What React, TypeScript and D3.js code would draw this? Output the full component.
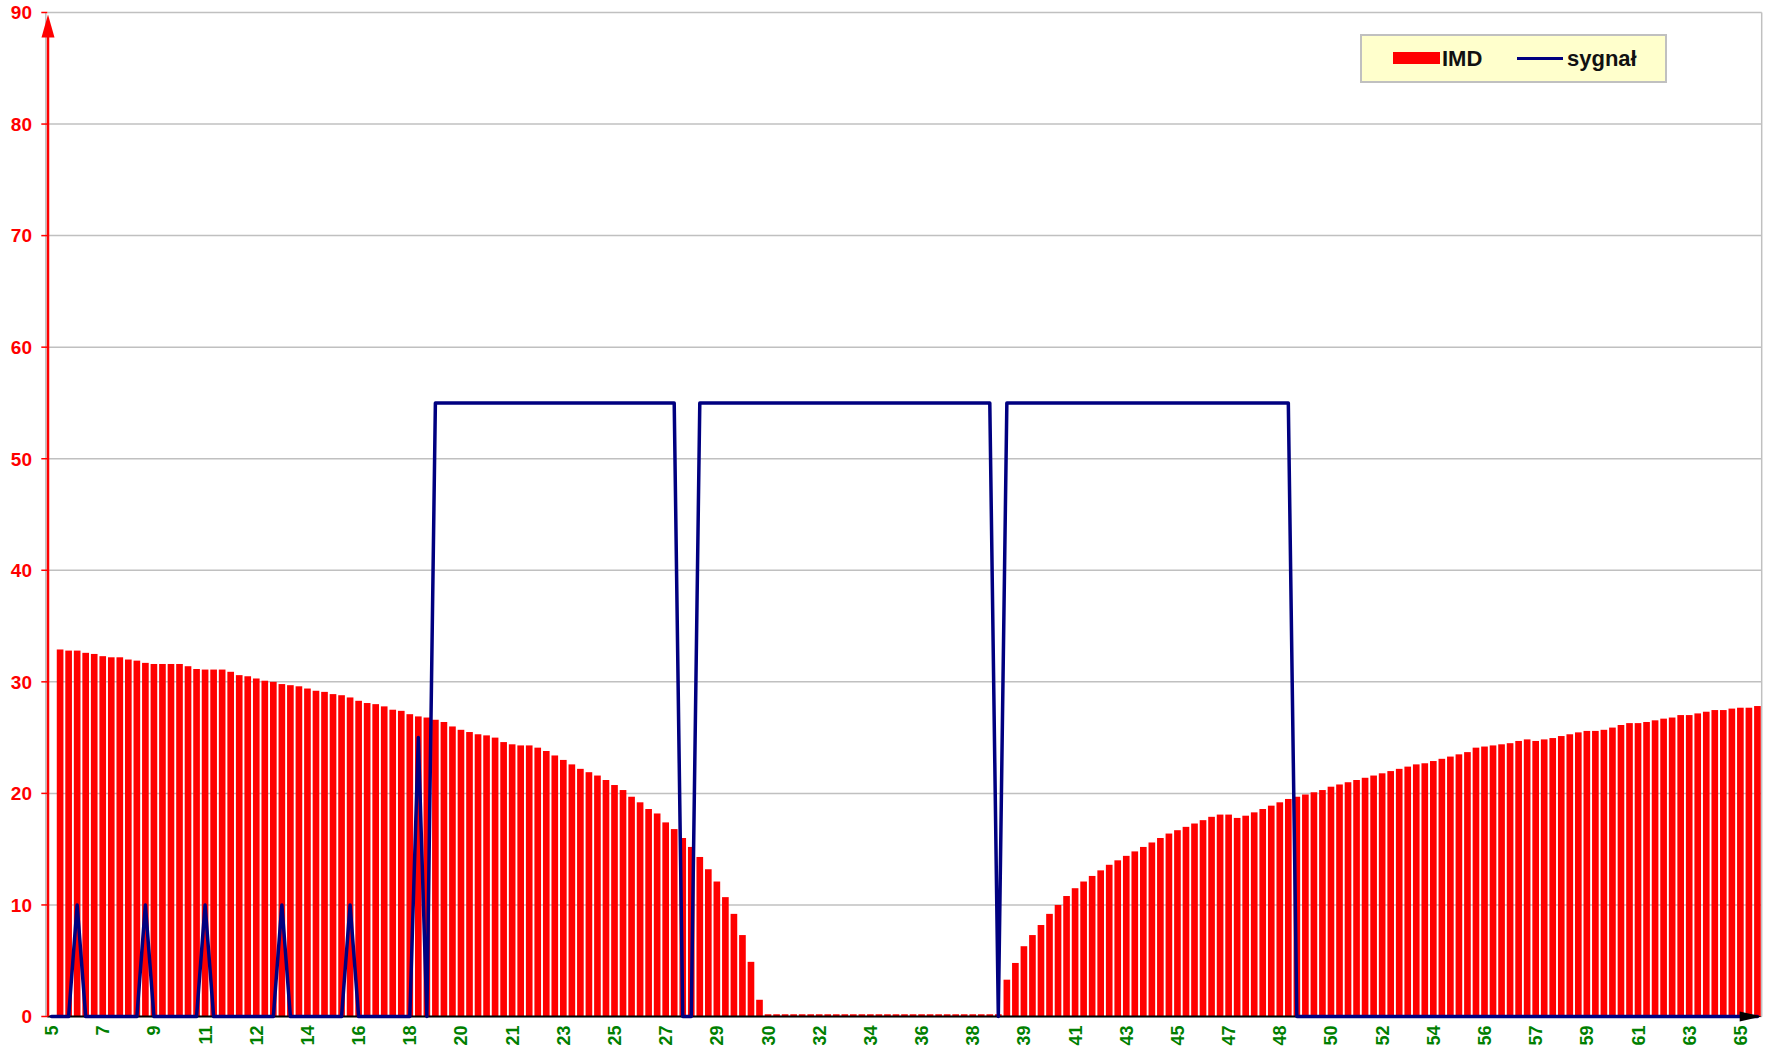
import React from 'react';
import * as d3 from 'd3';

const W = 1768;
const H = 1052;

// IMD bar values (one per category; the first category has no bar)
const imd: number[] = [
  0, 32.9, 32.8, 32.8, 32.6, 32.5, 32.3, 32.2, 32.2, 32.0,
  31.9, 31.7, 31.6, 31.6, 31.6, 31.6, 31.4, 31.15, 31.1, 31.1,
  31.1, 30.9, 30.6, 30.5, 30.3, 30.1, 30.0, 29.8, 29.7, 29.6,
  29.4, 29.2, 29.1, 28.9, 28.8, 28.6, 28.3, 28.1, 28.0, 27.8,
  27.5, 27.4, 27.1, 26.9, 26.8,
  26.6, 26.4, 26.0, 25.7, 25.5, 25.3, 25.2, 25.0, 24.6, 24.4,
  24.3, 24.3, 24.1, 23.8, 23.4, 23.0, 22.6, 22.2, 21.9, 21.6,
  21.2, 20.75, 20.3, 19.7, 19.2, 18.6, 18.2, 17.4, 16.8, 16.0,
  15.2, 14.3, 13.2, 12.1, 10.7, 9.2, 7.3, 4.9, 1.5,
  0.2, 0.2, 0.2, 0.2, 0.2, 0.2, 0.2, 0.2, 0.2, 0.2,
  0.2, 0.2, 0.2, 0.2, 0.2, 0.2, 0.2, 0.2, 0.2, 0.2,
  0.2, 0.2, 0.2, 0.2, 0.2, 0.2, 0.2,
  0.2,
  3.3, 4.8, 6.3, 7.3, 8.2, 9.2,
  10.0, 10.8, 11.5, 12.1, 12.6, 13.1, 13.6, 14.0, 14.4, 14.8,
  15.2, 15.6, 16.0, 16.4, 16.7, 17.0, 17.3, 17.6, 17.9, 18.1,
  18.1, 17.8, 18.0, 18.3, 18.6, 18.9,
  19.2, 19.5, 19.7, 19.9, 20.1, 20.3, 20.6, 20.8, 21.0, 21.2,
  21.4, 21.6, 21.8, 22.0, 22.2, 22.4, 22.6, 22.7, 22.9, 23.1,
  23.3, 23.5, 23.7, 24.1, 24.2, 24.3,
  24.4, 24.5, 24.7, 24.84, 24.7, 24.84, 24.96, 25.14, 25.3, 25.47,
  25.6, 25.6, 25.7, 25.9, 26.13, 26.3, 26.3, 26.4, 26.55, 26.7,
  26.8, 27.02, 27.02, 27.17, 27.32, 27.47, 27.47, 27.6, 27.68, 27.68,
  27.83,
];

// signal line values (one per category)
const signal: number[] = [
  0, 0, 0, 10, 0, 0, 0, 0, 0, 0,
  0, 10, 0, 0, 0, 0, 0, 0, 10, 0,
  0, 0, 0, 0, 0, 0, 0, 10, 0, 0,
  0, 0, 0, 0, 0, 10, 0, 0, 0, 0,
  0, 0, 0, 25, 0, 55, 55, 55, 55, 55,
  55, 55, 55, 55, 55, 55, 55, 55, 55, 55,
  55, 55, 55, 55, 55, 55, 55, 55, 55, 55,
  55, 55, 55, 55, 0, 0, 55, 55, 55, 55,
  55, 55, 55, 55, 55, 55, 55, 55, 55, 55,
  55, 55, 55, 55, 55, 55, 55, 55, 55, 55,
  55, 55, 55, 55, 55, 55, 55, 55, 55, 55,
  55, 0, 55, 55, 55, 55, 55, 55, 55, 55,
  55, 55, 55, 55, 55, 55, 55, 55, 55, 55,
  55, 55, 55, 55, 55, 55, 55, 55, 55, 55,
  55, 55, 55, 55, 55, 55, 0, 0, 0, 0,
  0, 0, 0, 0, 0, 0, 0, 0, 0, 0,
  0, 0, 0, 0, 0, 0, 0, 0, 0, 0,
  0, 0, 0, 0, 0, 0, 0, 0, 0, 0,
  0, 0, 0, 0, 0, 0, 0, 0, 0, 0,
  0, 0, 0, 0, 0, 0, 0, 0, 0, 0,
  0,
];

// category axis labels (shown every 6th category)
const xTickLabels: string[] = [
  '5', '7', '9', '11', '12', '14', '16', '18', '20', '21',
  '23', '25', '27', '29', '30', '32', '34', '36', '38', '39',
  '41', '43', '45', '47', '48', '50', '52', '54', '56', '57',
  '59', '61', '63', '65',
];
const labelEvery = 6;

const yTicks: number[] = [0, 10, 20, 30, 40, 50, 60, 70, 80, 90];

const FONT = 'Arial, "Liberation Sans", sans-serif';

export default function App() {
  const left = 47.3;
  const right = 1761.7;
  const top = 12.5;
  const bottom = 1016.5;

  const x = d3
    .scaleBand<number>()
    .domain(d3.range(imd.length))
    .range([left, right])
    .paddingInner(0.22)
    .paddingOuter(0.11);
  const y = d3.scaleLinear().domain([0, 90]).range([bottom, top]);
  const cx = (i: number) => (x(i) as number) + x.bandwidth() / 2;

  const linePath = d3
    .line<number>()
    .x((_, i) => cx(i))
    .y((d) => y(d))(signal) as string;

  return (
    <svg
      width={W}
      height={H}
      viewBox={`0 0 ${W} ${H}`}
      style={{ position: 'absolute', left: 0, top: 0, background: '#fff' }}
    >
      {/* gridlines */}
      {yTicks.map((t) => (
        <line key={'g' + t} x1={left} x2={right} y1={y(t)} y2={y(t)} stroke="#C0C0C0" strokeWidth={1.5} />
      ))}
      {/* plot border */}
      <line x1={right} x2={right} y1={top} y2={bottom} stroke="#C0C0C0" strokeWidth={1.5} />
      <line x1={left - 1.5} x2={left - 1.5} y1={top} y2={bottom} stroke="#C0C0C0" strokeWidth={1.5} />

      {/* bars */}
      {imd.map((v, i) =>
        v > 0 ? (
          <rect
            key={'b' + i}
            x={x(i)}
            y={y(v)}
            width={x.bandwidth()}
            height={bottom - y(v)}
            fill="#FF0000"
          />
        ) : null
      )}

      {/* x axis */}
      <line x1={left} x2={right - 18} y1={bottom} y2={bottom} stroke="#000" strokeWidth={2} />

      {/* signal line */}
      <path d={linePath} fill="none" stroke="#000080" strokeWidth={3.5} strokeLinejoin="round" strokeLinecap="round" />

      {/* x axis arrow */}
      <polygon
        points={`${right},${bottom} ${right - 22},${bottom - 5} ${right - 22},${bottom + 5}`}
        fill="#000"
      />

      {/* y axis */}
      {yTicks.map((t) => (
        <g key={'yt' + t}>
          <line x1={left - 6} x2={left} y1={y(t)} y2={y(t)} stroke="#FF0000" strokeWidth={1.5} />
          <text
            x={32}
            y={y(t)}
            dy="0.36em"
            textAnchor="end"
            fill="#FF0000"
            fontFamily={FONT}
            fontWeight="bold"
            fontSize={19}
          >
            {t}
          </text>
        </g>
      ))}
      <line x1={left + 0.7} x2={left + 0.7} y1={bottom} y2={top + 20} stroke="#FF0000" strokeWidth={2.5} />
      <polygon
        points={`${left + 0.7},${top + 2} ${left - 5.8},${top + 25} ${left + 7.2},${top + 25}`}
        fill="#FF0000"
      />

      {/* x tick labels */}
      {xTickLabels.map((lab, k) => {
        const xi = cx(k * labelEvery);
        return (
          <text
            key={'xl' + k}
            transform={`translate(${xi},${bottom + 9}) rotate(-90)`}
            dy="0.36em"
            textAnchor="end"
            fill="#008000"
            fontFamily={FONT}
            fontWeight="bold"
            fontSize={18}
          >
            {lab}
          </text>
        );
      })}

      {/* legend */}
      <rect x={1361} y={35} width={305} height={47} fill="#FFFFCC" stroke="#C0C0C0" strokeWidth={2} />
      <rect x={1393} y={52} width={47} height={12} fill="#FF0000" />
      <text x={1442} y={66} fill="#111" fontFamily={FONT} fontWeight="bold" fontSize={22}>
        IMD
      </text>
      <line x1={1517} x2={1563} y1={58.5} y2={58.5} stroke="#000080" strokeWidth={3} />
      <text x={1567} y={66} fill="#111" fontFamily={FONT} fontWeight="bold" fontSize={22}>
        sygnał
      </text>
    </svg>
  );
}
